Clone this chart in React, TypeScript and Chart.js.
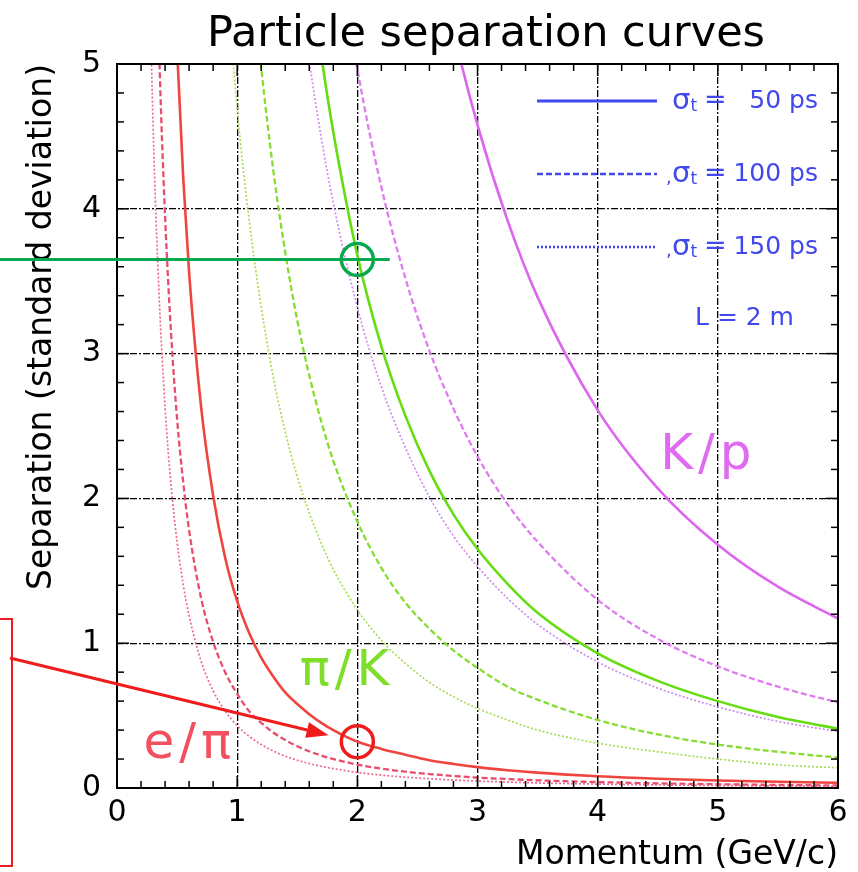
import React, { useEffect, useRef } from 'react';
import { Chart, registerables } from 'chart.js';

Chart.register(...registerables);

const FONT = '"DejaVu Sans", "Liberation Sans", sans-serif';

// Momentum (GeV/c) sample points
const momentum = [0.25, 0.3, 0.35, 0.4, 0.45, 0.5, 0.55, 0.6, 0.7, 0.8, 0.9, 1.0, 1.1, 1.2, 1.3, 1.4, 1.5, 1.6, 1.7, 1.8, 2.0, 2.2, 2.4, 2.6, 2.8, 3.0, 3.25, 3.5, 4.0, 4.5, 5.0, 5.5, 6.0];

// e/pi separation (standard deviations)
const ePi50 = [null, null, null, null, 6.27, 5.10, 4.23, 3.56, 2.63, 2.02, 1.59, 1.29, 1.07, 0.90, 0.77, 0.66, 0.58, 0.51, 0.45, 0.40, 0.32, 0.27, 0.23, 0.192, 0.166, 0.144, 0.123, 0.106, 0.081, 0.064, 0.052, 0.043, 0.036];
const ePi100 = [null, 6.87, 5.11, 3.95, 3.14, 2.55, 2.12, 1.78, 1.31, 1.01, 0.80, 0.65, 0.53, 0.45, 0.383, 0.331, 0.288, 0.253, 0.224, 0.200, 0.162, 0.134, 0.113, 0.096, 0.083, 0.072, 0.062, 0.053, 0.041, 0.032, 0.026, 0.021, 0.018];
const ePi150 = [6.46, 4.58, 3.41, 2.63, 2.09, 1.70, 1.41, 1.19, 0.875, 0.672, 0.532, 0.431, 0.357, 0.300, 0.256, 0.220, 0.192, 0.169, 0.150, 0.134, 0.108, 0.089, 0.075, 0.064, 0.055, 0.048, 0.041, 0.035, 0.027, 0.021, 0.017, 0.014, 0.012];

// pi/K separation
const piK50 = [null, null, null, null, null, null, null, null, null, null, null, null, null, null, null, null, null, 5.70, 5.06, 4.53, 3.68, 3.05, 2.57, 2.19, 1.89, 1.65, 1.41, 1.21, 0.93, 0.74, 0.60, 0.49, 0.41];
const piK100 = [null, null, null, null, null, null, null, null, null, null, null, null, 5.88, 4.98, 4.27, 3.70, 3.23, 2.85, 2.53, 2.26, 1.84, 1.52, 1.28, 1.10, 0.95, 0.83, 0.70, 0.61, 0.47, 0.37, 0.30, 0.25, 0.21];
const piK150 = [null, null, null, null, null, null, null, null, null, null, 5.72, 4.69, 3.92, 3.32, 2.84, 2.46, 2.15, 1.90, 1.69, 1.51, 1.23, 1.02, 0.86, 0.73, 0.63, 0.55, 0.47, 0.40, 0.31, 0.25, 0.20, 0.16, 0.14];

// K/p separation
const kP50 = [null, null, null, null, null, null, null, null, null, null, null, null, null, null, null, null, null, null, null, null, null, null, null, 6.04, 5.23, 4.58, 3.92, 3.39, 2.61, 2.07, 1.68, 1.39, 1.17];
const kP100 = [null, null, null, null, null, null, null, null, null, null, null, null, null, null, null, null, null, null, null, 6.06, 4.97, 4.15, 3.52, 3.02, 2.62, 2.29, 1.96, 1.70, 1.30, 1.03, 0.84, 0.70, 0.59];
const kP150 = [null, null, null, null, null, null, null, null, null, null, null, null, null, null, null, null, 5.64, 5.02, 4.49, 4.04, 3.32, 2.77, 2.35, 2.01, 1.74, 1.53, 1.31, 1.13, 0.87, 0.69, 0.56, 0.46, 0.39];

const titleText = 'Particle separation curves';
const xTitle = 'Momentum (GeV/c)';
const yTitle = 'Separation (standard deviation)';

const legendTimes = ['50 ps', '100 ps', '150 ps'];
const legendPrefixComma = [false, true, true];
const lengthNote = 'L = 2 m';

const pairLabels = [
  { text: 'K/p', x: 4.52, y: 2.29, color: '#df6cf0' },
  { text: 'π/K', x: 1.52, y: 0.80, color: '#7ede2a' },
  { text: 'e/π', x: 0.22, y: 0.30, color: '#f25060' },
];

// highlighted operating points
const markP = 2;
const markPiK = 3.65;
const markEPi = 0.32;

const RED = ['#f0443f', '#e84e6c', '#ee6a8c'];
const GREEN = ['#66dd11', '#86dc30', '#a6dc56'];
const MAGENTA = ['#dc66ee', '#de7cf0', '#cc8cec'];
const DASHES = [[], [6, 3], [2, 2]];
const WIDTHS = [2.6, 2.3, 1.7];

function series(values: (number | null)[]) {
  return momentum.map((m, i) => ({ x: m, y: values[i] }));
}

const annotations = {
  id: 'annotations',
  afterDraw(chart: any) {
    const { ctx, chartArea: a, scales } = chart;
    const xs = scales.x;
    const ys = scales.y;
    ctx.save();
    ctx.setLineDash([]);
    ctx.strokeStyle = '#000';
    ctx.lineWidth = 1.5;
    const seg = (x1: number, y1: number, x2: number, y2: number) => {
      ctx.beginPath();
      ctx.moveTo(x1, y1);
      ctx.lineTo(x2, y2);
      ctx.stroke();
    };
    for (let i = 0; i <= 30; i++) {
      const px = xs.getPixelForValue(i / 5);
      const len = i % 5 === 0 ? 12 : 7;
      seg(px, a.bottom, px, a.bottom - len);
      seg(px, a.top, px, a.top + len);
    }
    for (let i = 0; i <= 25; i++) {
      const py = ys.getPixelForValue(i / 5);
      const len = i % 5 === 0 ? 12 : 7;
      seg(a.left, py, a.left + len, py);
      seg(a.right, py, a.right - len, py);
    }
    ctx.lineWidth = 2;
    ctx.strokeRect(a.left, a.top, a.right - a.left, a.bottom - a.top);

    // title
    ctx.fillStyle = '#000';
    ctx.font = `43px ${FONT}`;
    ctx.textAlign = 'center';
    ctx.textBaseline = 'alphabetic';
    ctx.fillText(titleText, 486, 46);

    // legend
    const blue = '#4048ee';
    const rowsY = [101, 174, 247];
    rowsY.forEach((ry, i) => {
      ctx.strokeStyle = blue;
      ctx.lineWidth = i === 0 ? 3 : 2.6;
      ctx.setLineDash(DASHES[i]);
      seg(537, ry, 657, ry);
      ctx.setLineDash([]);
      ctx.fillStyle = blue;
      ctx.textBaseline = 'middle';
      if (legendPrefixComma[i]) {
        ctx.font = `18px ${FONT}`;
        ctx.textAlign = 'left';
        ctx.fillText(',', 666, ry + 4);
      }
      ctx.font = `29px ${FONT}`;
      ctx.textAlign = 'left';
      ctx.fillText('σ', 672, ry);
      const sw = ctx.measureText('σ').width;
      ctx.font = `17px ${FONT}`;
      ctx.fillText('t', 672 + sw, ry + 6);
      ctx.font = `27px ${FONT}`;
      ctx.fillText('=', 704, ry);
      ctx.font = `25px ${FONT}`;
      ctx.textAlign = 'right';
      ctx.fillText(legendTimes[i], 818, ry);
    });
    ctx.font = `25px ${FONT}`;
    ctx.textAlign = 'left';
    ctx.fillText(lengthNote, 695, 318);

    // pair labels
    ctx.font = `50px ${FONT}`;
    ctx.textBaseline = 'middle';
    ctx.textAlign = 'left';
    (ctx as any).letterSpacing = '5px';
    pairLabels.forEach((l) => {
      ctx.fillStyle = l.color;
      ctx.fillText(l.text, xs.getPixelForValue(l.x), ys.getPixelForValue(l.y));
    });
    (ctx as any).letterSpacing = '0px';

    // green marker
    const gx = xs.getPixelForValue(markP);
    const gy = ys.getPixelForValue(markPiK);
    ctx.strokeStyle = '#0aa84e';
    ctx.lineWidth = 3;
    seg(0, gy, xs.getPixelForValue(2.27), gy);
    ctx.lineWidth = 3.5;
    ctx.beginPath();
    ctx.arc(gx, gy, 16, 0, Math.PI * 2);
    ctx.stroke();

    // red marker
    const rx = xs.getPixelForValue(markP);
    const ry = ys.getPixelForValue(markEPi);
    ctx.strokeStyle = '#ee1c1c';
    ctx.fillStyle = '#ee1c1c';
    ctx.lineWidth = 3.5;
    ctx.beginPath();
    ctx.arc(rx, ry, 16, 0, Math.PI * 2);
    ctx.stroke();

    // red box at left
    ctx.lineWidth = 2;
    ctx.beginPath();
    ctx.moveTo(0, 619);
    ctx.lineTo(12, 619);
    ctx.lineTo(12, 866);
    ctx.lineTo(0, 866);
    ctx.stroke();

    // arrow
    const sx = 10, sy = 658;
    const tx = xs.getPixelForValue(1.76);
    const ty = ys.getPixelForValue(0.365);
    const ang = Math.atan2(ty - sy, tx - sx);
    const hl = 22, hw = 8;
    const bx = tx - hl * Math.cos(ang);
    const by = ty - hl * Math.sin(ang);
    ctx.lineWidth = 3;
    seg(sx, sy, bx, by);
    ctx.beginPath();
    ctx.moveTo(tx, ty);
    ctx.lineTo(bx + hw * Math.sin(ang), by - hw * Math.cos(ang));
    ctx.lineTo(bx - hw * Math.sin(ang), by + hw * Math.cos(ang));
    ctx.closePath();
    ctx.fill();

    ctx.restore();
  },
};

export default function App() {
  const ref = useRef<HTMLCanvasElement>(null);
  useEffect(() => {
    if (!ref.current) return;
    const groups = [
      { vals: [ePi50, ePi100, ePi150], colors: RED, name: 'e/π' },
      { vals: [piK50, piK100, piK150], colors: GREEN, name: 'π/K' },
      { vals: [kP50, kP100, kP150], colors: MAGENTA, name: 'K/p' },
    ];
    const datasets: any[] = [];
    [2, 1, 0].forEach((s) => {
      groups.forEach((g) => {
        datasets.push({
          label: `${g.name} ${legendTimes[s]}`,
          data: series(g.vals[s]),
          borderColor: g.colors[s],
          borderWidth: WIDTHS[s],
          borderDash: DASHES[s],
          pointRadius: 0,
          fill: false,
          cubicInterpolationMode: 'monotone',
          spanGaps: false,
        });
      });
    });
    const chart = new Chart(ref.current, {
      type: 'line',
      data: { datasets },
      options: {
        responsive: false,
        animation: false,
        devicePixelRatio: 1,
        layout: { padding: { top: 64, right: 20, left: 0, bottom: 0 } },
        plugins: {
          legend: { display: false },
          title: { display: false },
          tooltip: { enabled: false },
        },
        scales: {
          x: {
            type: 'linear',
            min: 0,
            max: 6,
            afterFit: (s: any) => { s.height = 84; },
            ticks: { stepSize: 1, color: '#000', font: { family: FONT, size: 30 }, padding: 7, maxRotation: 0, autoSkip: false },
            grid: { color: '#000', lineWidth: 1.3, drawTicks: false },
            border: { display: false, dash: [7, 2, 2, 2] },
            title: { display: true, text: xTitle, align: 'end', color: '#000', font: { family: FONT, size: 33, lineHeight: 1 }, padding: { top: 0, bottom: 0 } },
          },
          y: {
            type: 'linear',
            min: 0,
            max: 5,
            afterFit: (s: any) => { s.width = 117; },
            ticks: { stepSize: 1, color: '#000', font: { family: FONT, size: 30 }, padding: 16 },
            grid: { color: '#000', lineWidth: 1.3, drawTicks: false },
            border: { display: false, dash: [7, 2, 2, 2] },
            title: { display: true, text: yTitle, align: 'end', color: '#000', font: { family: FONT, size: 33, lineHeight: 1 }, padding: { top: 26, bottom: 0 } },
          },
        },
      },
      plugins: [annotations],
    });
    return () => chart.destroy();
  }, []);
  return (
    <div style={{ position: 'fixed', left: 0, top: 0, width: 858, height: 872, background: '#fff' }}>
      <canvas ref={ref} width={858} height={872} />
    </div>
  );
}
